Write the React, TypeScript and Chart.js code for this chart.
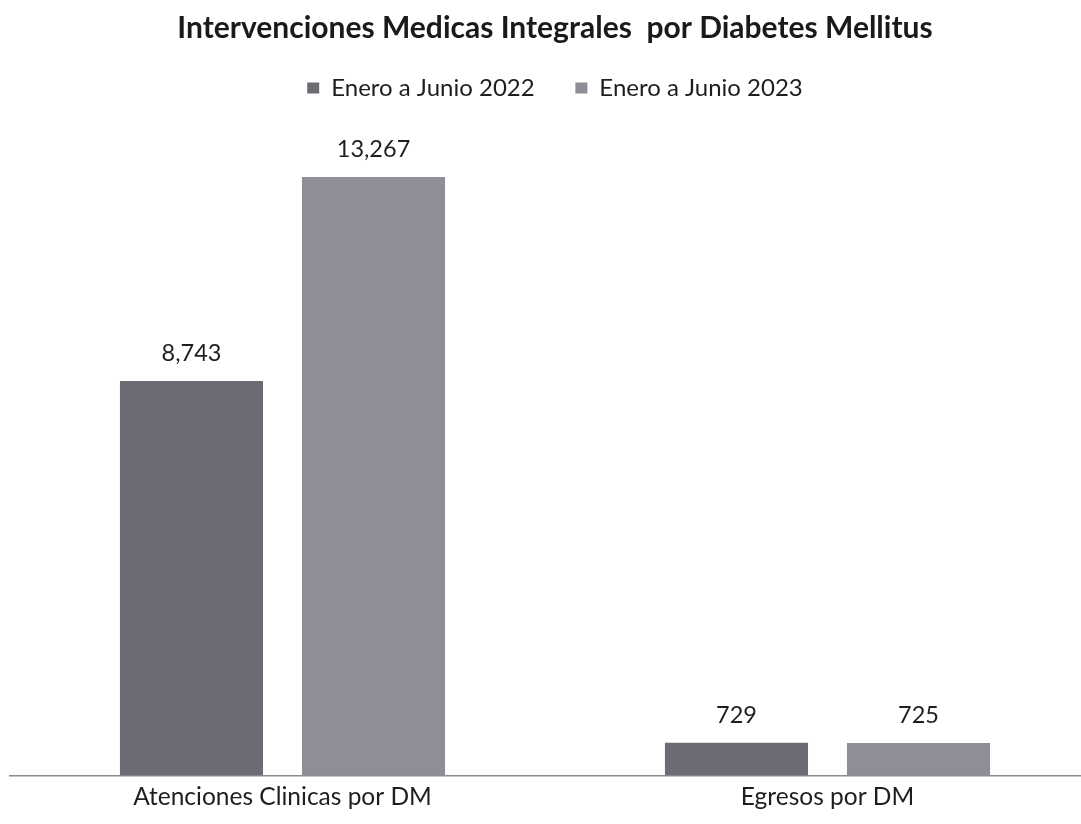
import React, { useEffect, useRef } from "react";
import { Chart, registerables } from "chart.js";

Chart.register(...registerables);

const categories = ["Atenciones Clinicas por DM", "Egresos por DM"];
const seriesLabels = ["Enero a Junio 2022", "Enero a Junio 2023"];
const values2022 = [8743, 729];
const values2023 = [13267, 725];
const seriesColors = ["#6d6b74", "#8f8d97"];

const FONT = "Lato, 'Open Sans', sans-serif";

// Writes each bar's value just above it.
const valueLabels = {
  id: "valueLabels",
  afterDatasetsDraw(chart: Chart) {
    const { ctx } = chart;
    ctx.save();
    ctx.font = `23.5px ${FONT}`;
    ctx.fillStyle = "#1e1e1e";
    ctx.textAlign = "center";
    ctx.textBaseline = "alphabetic";
    chart.data.datasets.forEach((ds, di) => {
      const meta = chart.getDatasetMeta(di);
      meta.data.forEach((bar: any, i: number) => {
        const v = ds.data[i] as number;
        ctx.fillText(v.toLocaleString("en-US"), bar.x, bar.y - 20);
      });
    });
    ctx.restore();
  },
};

export default function App() {
  const ref = useRef<HTMLCanvasElement>(null);

  useEffect(() => {
    document.body.style.overflow = "hidden";
    const chart = new Chart(ref.current!, {
      type: "bar",
      data: {
        labels: categories,
        datasets: [
          {
            label: seriesLabels[0],
            data: values2022,
            backgroundColor: seriesColors[0],
            categoryPercentage: 0.668,
            barPercentage: 0.786,
          },
          {
            label: seriesLabels[1],
            data: values2023,
            backgroundColor: seriesColors[1],
            categoryPercentage: 0.668,
            barPercentage: 0.786,
          },
        ],
      },
      options: {
        animation: false,
        responsive: false,
        maintainAspectRatio: false,
        layout: { padding: { left: 10, right: 10, top: 0, bottom: 5 } },
        plugins: {
          title: {
            display: true,
            text: "Intervenciones Medicas Integrales  por Diabetes Mellitus",
            color: "#1a1a1a",
            font: { family: FONT, size: 30, weight: "bold" },
            padding: { top: 10, bottom: 20 },
          },
          legend: {
            display: true,
            position: "top",
            labels: {
              color: "#1e1e1e",
              font: { family: FONT, size: 24 },
              boxWidth: 12,
              boxHeight: 11,
              padding: 10,
              generateLabels(chart: Chart) {
                const items = Chart.defaults.plugins.legend.labels.generateLabels(chart);
                // widen the first entry so the two entries sit further apart
                if (items.length > 1) items[0].text = items[0].text + "     ";
                return items;
              },
            },
          },
          tooltip: { enabled: false },
        },
        scales: {
          x: {
            grid: { display: false, drawTicks: false },
            border: { display: true, color: "#8c8c8c", width: 1.5 },
            ticks: {
              color: "#1e1e1e",
              font: { family: FONT, size: 24.5 },
              padding: 7,
            },
          },
          y: {
            display: false,
            min: 0,
            max: 14750,
          },
        },
      },
      plugins: [valueLabels],
    });
    return () => chart.destroy();
  }, []);

  return (
    <div
      style={{
        position: "fixed",
        left: 0,
        top: 0,
        width: 1110,
        height: 824,
        overflow: "hidden",
        background: "#ffffff",
      }}
    >
      <canvas ref={ref} width={1110} height={824} />
    </div>
  );
}
